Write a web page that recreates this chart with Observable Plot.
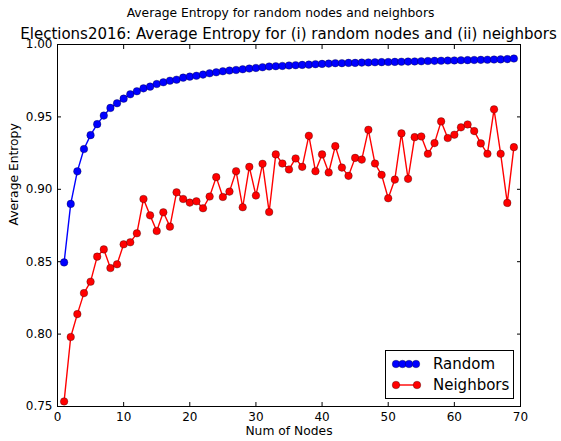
<!DOCTYPE html>
<html>
<head>
<meta charset="utf-8">
<script src="https://cdn.jsdelivr.net/npm/d3@7"></script>
<script src="https://cdn.jsdelivr.net/npm/@observablehq/plot@0.6"></script>
<style>
  body { margin: 0; background: #fff; font-family: "DejaVu Sans", sans-serif; }
  #fig { position: relative; width: 561px; height: 441px; overflow: hidden; }
  #fig > svg { position: absolute; left: 0; top: 0; }
  .suptitle { position: absolute; left: 0; width: 561px; top: 6px; text-align: center; font-size: 12.3px; color: #000; }
  .title { position: absolute; left: 57px; width: 463px; top: 25px; text-align: center; font-size: 15px; color: #000; white-space: nowrap; display: flex; justify-content: center; }
  .legend { position: absolute; left: 385px; top: 350px; width: 129px; height: 49px; border: 1px solid #000; background: #fff; box-sizing: border-box; }
  .legend .row { position: absolute; left: 0; height: 22px; display: flex; align-items: center; font-size: 15px; color: #000; }
  .legend .row svg { position: static; margin-left: 5px; margin-right: 11px; display: block; }
</style>
</head>
<body>
<div id="fig"></div>
<script>
// Number of nodes sampled
const nodes = [1, 2, 3, 4, 5, 6, 7, 8, 9, 10, 11, 12, 13, 14, 15, 16, 17, 18, 19, 20,
  21, 22, 23, 24, 25, 26, 27, 28, 29, 30, 31, 32, 33, 34, 35, 36, 37, 38, 39, 40,
  41, 42, 43, 44, 45, 46, 47, 48, 49, 50, 51, 52, 53, 54, 55, 56, 57, 58, 59, 60,
  61, 62, 63, 64, 65, 66, 67, 68, 69];

// (i) average entropy of random nodes
const randomEntropy = [0.8495, 0.8899, 0.9124, 0.9278, 0.9374, 0.9450, 0.9509, 0.9562, 0.9594, 0.9626,
  0.9656, 0.9677, 0.9697, 0.9709, 0.9727, 0.9739, 0.9750, 0.9757, 0.9771, 0.9778,
  0.9784, 0.9792, 0.9801, 0.9808, 0.9815, 0.9820, 0.9824, 0.9829, 0.9834, 0.9838,
  0.9843, 0.9848, 0.9850, 0.9852, 0.9855, 0.9857, 0.9859, 0.9861, 0.9864, 0.9866,
  0.9868, 0.9871, 0.9871, 0.9873, 0.9873, 0.9875, 0.9876, 0.9877, 0.9878, 0.9879,
  0.9880, 0.9881, 0.9882, 0.9883, 0.9884, 0.9886, 0.9887, 0.9888, 0.9889, 0.9890,
  0.9891, 0.9892, 0.9893, 0.9894, 0.9895, 0.9896, 0.9897, 0.9899, 0.9903];

// (ii) average entropy of neighbors
const neighborEntropy = [0.7535, 0.7980, 0.8138, 0.8283, 0.8362, 0.8535, 0.8585, 0.8456, 0.8482, 0.8620,
  0.8634, 0.8696, 0.8933, 0.8820, 0.8712, 0.8841, 0.8742, 0.8979, 0.8933, 0.8908,
  0.8917, 0.8869, 0.8950, 0.9084, 0.8947, 0.8984, 0.9125, 0.8876, 0.9155, 0.8957,
  0.9176, 0.8843, 0.9241, 0.9178, 0.9137, 0.9213, 0.9155, 0.9370, 0.9125, 0.9241,
  0.9116, 0.9298, 0.9150, 0.9093, 0.9217, 0.9205, 0.9411, 0.9178, 0.9100, 0.8938,
  0.9067, 0.9386, 0.9072, 0.9360, 0.9365, 0.9245, 0.9319, 0.9469, 0.9354, 0.9377,
  0.9428, 0.9448, 0.9402, 0.9317, 0.9245, 0.9552, 0.9245, 0.8906, 0.9291];

const xTicks = [0, 10, 20, 30, 40, 50, 60, 70];
const yTicks = [0.75, 0.80, 0.85, 0.90, 0.95, 1.00];

const seriesNames = ["Random", "Neighbors"];
const seriesColors = ["#0000ff", "#ff0000"];

const rows = nodes.map((n, i) => ({n, random: randomEntropy[i], neighbors: neighborEntropy[i]}));

const font = "DejaVu Sans, sans-serif";
const dotR = 3.8;

const chart = Plot.plot({
  width: 561,
  height: 441,
  marginLeft: 57,
  marginRight: 41,
  marginTop: 44,
  marginBottom: 35,
  style: {fontFamily: font, fontSize: "12px", color: "#000", background: "transparent"},
  x: {domain: [0, 70], label: null},
  y: {domain: [0.75, 1.0], label: null},
  marks: [
    Plot.axisX(xTicks, {anchor: "bottom", tickSize: -4, tickPadding: 10, fontSize: 12, label: null}),
    Plot.axisX(xTicks, {anchor: "top", tickSize: -4, tickFormat: () => "", label: null}),
    Plot.axisY(yTicks, {anchor: "left", tickSize: -4, tickPadding: 9, tickFormat: d3.format(".2f"), fontSize: 12, label: null}),
    Plot.axisY(yTicks, {anchor: "right", tickSize: -4, tickFormat: () => "", label: null}),
    Plot.line(rows, {x: "n", y: "random", stroke: seriesColors[0], strokeWidth: 1.4}),
    Plot.dot(rows, {x: "n", y: "random", r: dotR, fill: seriesColors[0], stroke: "#000", strokeWidth: 0.5, strokeOpacity: 0.6}),
    Plot.line(rows, {x: "n", y: "neighbors", stroke: seriesColors[1], strokeWidth: 1.4}),
    Plot.dot(rows, {x: "n", y: "neighbors", r: dotR, fill: seriesColors[1], stroke: "#000", strokeWidth: 0.5, strokeOpacity: 0.6}),
    Plot.frame({stroke: "#000", strokeWidth: 1}),
    Plot.text(["Num of Nodes"], {frameAnchor: "bottom", lineAnchor: "middle", dy: 25, fontSize: 12.3, fill: "#000"}),
    Plot.text(["Average Entropy"], {frameAnchor: "left", lineAnchor: "middle", dx: -43, rotate: -90, fontSize: 12.3, fill: "#000"})
  ]
});

const fig = document.getElementById("fig");
fig.appendChild(chart);

const sup = document.createElement("div");
sup.className = "suptitle";
sup.textContent = "Average Entropy for random nodes and neighbors";
fig.appendChild(sup);

const title = document.createElement("div");
title.className = "title";
title.innerHTML = "<span>Elections2016: Average Entropy for (i) random nodes and (ii) neighbors</span>";
fig.appendChild(title);

// Legend: Random drawn as a row of markers, Neighbors as a line with end markers
const legend = document.createElement("div");
legend.className = "legend";
const ns = "http://www.w3.org/2000/svg";
seriesNames.forEach((name, i) => {
  const row = document.createElement("div");
  row.className = "row";
  row.style.top = (i === 0 ? 2 : 23) + "px";
  const sw = document.createElementNS(ns, "svg");
  sw.setAttribute("width", 31);
  sw.setAttribute("height", 10);
  const xs = i === 0 ? [5, 11.5, 18, 25] : [5, 26];
  if (i === 1) {
    const ln = document.createElementNS(ns, "line");
    ln.setAttribute("x1", 5); ln.setAttribute("x2", 26);
    ln.setAttribute("y1", 5); ln.setAttribute("y2", 5);
    ln.setAttribute("stroke", seriesColors[i]); ln.setAttribute("stroke-width", 1.4);
    sw.appendChild(ln);
  }
  xs.forEach(cx => {
    const c = document.createElementNS(ns, "circle");
    c.setAttribute("cx", cx); c.setAttribute("cy", 5); c.setAttribute("r", dotR);
    c.setAttribute("fill", seriesColors[i]);
    c.setAttribute("stroke", "#000"); c.setAttribute("stroke-width", 0.5); c.setAttribute("stroke-opacity", 0.6);
    sw.appendChild(c);
  });
  row.appendChild(sw);
  const label = document.createElement("span");
  label.textContent = name;
  row.appendChild(label);
  legend.appendChild(row);
});
fig.appendChild(legend);
</script>
</body>
</html>
